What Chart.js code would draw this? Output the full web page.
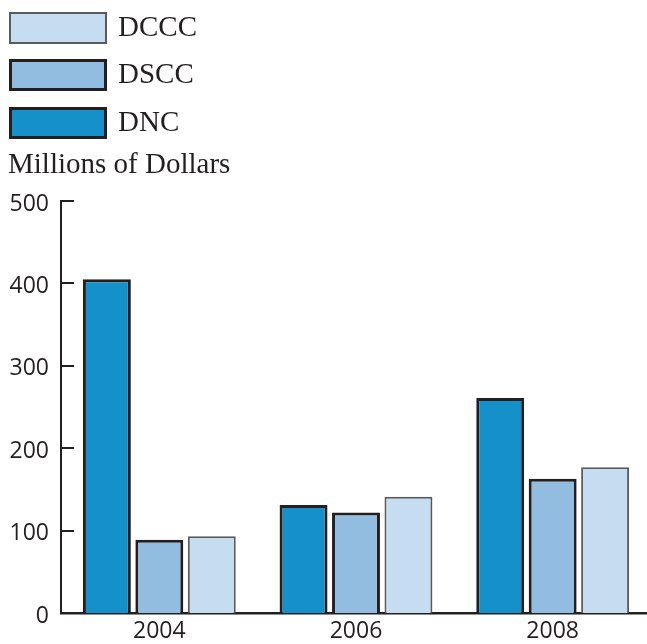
<!DOCTYPE html>
<html>
<head>
<meta charset="utf-8">
<script src="https://cdn.jsdelivr.net/npm/chart.js@4"></script>
<style>
  html, body { margin:0; padding:0; background:#fff; overflow:hidden; }
  #wrap { position:relative; width:647px; height:644px; overflow:hidden; }
  #chart { position:absolute; left:0; top:0; }
</style>
</head>
<body>
<div id="wrap"><canvas id="chart" width="651" height="644"></canvas></div>
<script>
// ---- data ----
const years = ["2004", "2006", "2008"];
const dnc  = [405, 131, 261];
const dscc = [89, 122, 163];
const dccc = [93, 141, 177];
const yTicks = [0, 100, 200, 300, 400, 500];
const axisTitle = "Millions of Dollars";

const INK = "#231f20";

// inward tick marks on the y axis
const innerTicks = {
    id: "innerTicks",
    afterDraw(chart){
        const ctx = chart.ctx;
        const y = chart.scales.y;
        const left = chart.chartArea.left;
        ctx.save();
        ctx.strokeStyle = INK;
        ctx.lineWidth = 2;
        yTicks.forEach(v => {
            if(v === 0) return;
            const py = Math.round(y.getPixelForValue(v));
            ctx.beginPath();
            ctx.moveTo(left - 1, py);
            ctx.lineTo(left + 13, py);
            ctx.stroke();
        });
        ctx.restore();
    }
};

// stacked legend + unit label in the top left corner
const boxLegend = {
    id: "boxLegend",
    afterDraw(chart){
        const ctx = chart.ctx;
        const rows = chart.data.datasets.slice().reverse();
        const tops = [12, 59, 107];
        ctx.save();
        ctx.font = "29px 'Liberation Serif', serif";
        ctx.textBaseline = "alphabetic";
        rows.forEach((ds, i) => {
            const t = tops[i];
            const bw = ds.borderWidth;
            ctx.fillStyle = ds.backgroundColor;
            ctx.fillRect(9, t, 98, 32);
            ctx.strokeStyle = ds.borderColor;
            ctx.lineWidth = bw;
            ctx.strokeRect(9 + bw / 2, t + bw / 2, 98 - bw, 32 - bw);
            ctx.fillStyle = INK;
            ctx.fillText(ds.label, 118, t + 24);
        });
        ctx.fillText(axisTitle, 8, 173);
        ctx.restore();
    }
};

const ctx = document.getElementById("chart").getContext("2d");

new Chart(ctx, {
    type: "bar",
    data: {
        labels: years,
        datasets: [
            { label:"DNC",  data:dnc,  backgroundColor:"#1590c9", borderColor:INK,       borderWidth:3 },
            { label:"DSCC", data:dscc, backgroundColor:"#93bde0", borderColor:INK,       borderWidth:3 },
            { label:"DCCC", data:dccc, backgroundColor:"#c6dcf0", borderColor:"#5a5a5c", borderWidth:2 }
        ]
    },
    options: {
        responsive: false,
        animation: false,
        devicePixelRatio: 1,
        categoryPercentage: 0.80,
        barPercentage: 0.914,
        layout: { padding: { top:201, left:0, right:0, bottom:0 } },
        plugins: {
            legend: { display:false },
            tooltip: { enabled:false }
        },
        scales: {
            x: {
                grid: { display:false, drawTicks:false },
                border: { display:true, color:INK, width:2.5 },
                ticks: {
                    color: INK,
                    padding: 5,
                    font: { family:"'Open Sans', sans-serif", size:23 }
                },
                afterFit(scale){ scale.height = 31; }
            },
            y: {
                min: 0,
                max: 500,
                afterBuildTicks(scale){ scale.ticks = yTicks.map(v => ({ value:v })); },
                grid: { display:false, drawTicks:false },
                border: { display:true, color:INK, width:2 },
                ticks: {
                    color: INK,
                    padding: 12,
                    labelOffset: 3,
                    font: { family:"'Open Sans', sans-serif", size:23 }
                },
                afterFit(scale){ scale.width = 61; }
            }
        }
    },
    plugins: [innerTicks, boxLegend]
});
</script>
</body>
</html>
